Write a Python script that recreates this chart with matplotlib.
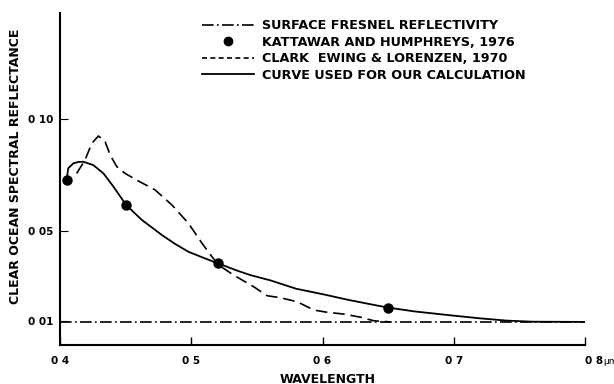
import matplotlib
matplotlib.use("Agg")
import matplotlib.pyplot as plt
from matplotlib.lines import Line2D
from matplotlib.legend_handler import HandlerLine2D

plt.rcParams['font.family'] = ['DejaVu Sans']
plt.rcParams['font.weight'] = 'bold'
plt.rcParams['axes.labelweight'] = 'bold'

# curve used for our calculation
calc_wl = [0.405, 0.4063, 0.4102, 0.4140, 0.4178, 0.4254, 0.4331, 0.4407, 0.4504,
           0.4624, 0.4704, 0.4776, 0.4875, 0.4979, 0.5090, 0.5201, 0.535, 0.545,
           0.56, 0.58, 0.60, 0.62, 0.64, 0.65, 0.67, 0.695, 0.72, 0.74, 0.76, 0.80]
calc_r = [0.0729, 0.0782, 0.0804, 0.0810, 0.0811, 0.0796, 0.0759, 0.0700, 0.0618,
          0.0551, 0.0516, 0.0484, 0.0445, 0.0409, 0.0383, 0.0358, 0.0325, 0.0305,
          0.0282, 0.0244, 0.0220, 0.0194, 0.0171, 0.0160, 0.0143, 0.0127, 0.0112,
          0.0102, 0.0097, 0.0096]

# Clark, Ewing & Lorenzen, 1970
clark_wl = [0.4127, 0.4191, 0.4242, 0.4293, 0.4344, 0.4382, 0.4433, 0.4496, 0.4585,
            0.4725, 0.4853, 0.4979, 0.5082, 0.5158, 0.5208, 0.5323, 0.5476, 0.5578,
            0.5679, 0.5807, 0.5934, 0.6036, 0.6163, 0.629, 0.6392, 0.652]
clark_r = [0.0759, 0.0819, 0.0893, 0.0926, 0.0900, 0.0841, 0.0789, 0.0759, 0.0729,
           0.0685, 0.0618, 0.0536, 0.0447, 0.0387, 0.0350, 0.0305, 0.0253, 0.0213,
           0.0204, 0.0186, 0.0149, 0.0139, 0.0131, 0.0117, 0.0101, 0.0096]

# Kattawar and Humphreys, 1976
kh_wl = [0.405, 0.45, 0.52, 0.65]
kh_r = [0.0729, 0.0618, 0.0358, 0.0160]

# surface Fresnel reflectivity
fresnel_wl = [0.40, 0.80]
fresnel_r = [0.0097, 0.0097]

xticks = [0.4, 0.5, 0.6, 0.7, 0.8]
xticklabels = ["0 4", "0 5", "0 6", "0 7", "0 8"]
yticks = [0.01, 0.05, 0.10]
yticklabels = ["0 01", "0 05", "0 10"]

labels = ["SURFACE FRESNEL REFLECTIVITY",
          "KATTAWAR AND HUMPHREYS, 1976",
          "CLARK  EWING & LORENZEN, 1970",
          "CURVE USED FOR OUR CALCULATION"]


class RightDot(HandlerLine2D):
    # put the legend dot at the right end of the handle, like the original
    def get_xdata(self, legend, xdescent, ydescent, width, height, fontsize):
        xdata, _ = super().get_xdata(legend, xdescent, ydescent, width, height, fontsize)
        return xdata, [width - xdescent - 3]


fig = plt.figure(figsize=(6.14, 3.84), dpi=100)
ax = fig.add_axes([60 / 614, 1 - 345 / 384, 525 / 614, 332 / 384])

ax.plot(fresnel_wl, fresnel_r, color='k', lw=1.2, dashes=(7, 2, 1, 2))
ax.plot(clark_wl, clark_r, color='k', lw=1.2, dashes=(7, 3.5))
ax.plot(calc_wl, calc_r, color='k', lw=1.3)
ax.plot(kh_wl, kh_r, 'o', color='k', ms=6.5)

ax.set_xlim(0.4, 0.8)
ax.set_ylim(-0.0007, 0.1475)
ax.spines['top'].set_visible(False)
ax.spines['right'].set_visible(False)
ax.spines['left'].set_linewidth(1.5)
ax.spines['bottom'].set_linewidth(1.5)

ax.set_xticks(xticks)
ax.set_xticklabels(xticklabels, fontsize=7.5, fontweight='bold')
ax.set_yticks(yticks)
ax.set_yticklabels(yticklabels, fontsize=7.5, fontweight='bold')
ax.tick_params(axis='x', direction='in', length=6, width=1, pad=8)
ax.tick_params(axis='y', direction='in', length=6, width=0.8, pad=5)
ax.get_xticklabels()[-1].set_ha('left')
ax.annotate("\u03bcm", xy=(0.8, 0), xycoords=('data', 'axes fraction'),
            xytext=(13, -12), textcoords='offset points', fontsize=6.5,
            fontweight='normal', va='center', ha='left', annotation_clip=False)

ax.set_xlabel("WAVELENGTH", fontsize=9)
ax.xaxis.set_label_coords(0.509, -0.085)
ax.set_ylabel("CLEAR OCEAN SPECTRAL REFLECTANCE", fontsize=9)
ax.yaxis.set_label_coords(-0.072, 0.539)

handles = [Line2D([], [], color='k', lw=1.2, dashes=(7, 2, 1, 2)),
           Line2D([], [], color='k', ls='none', marker='o', ms=6),
           Line2D([], [], color='k', lw=1.2, dashes=(3, 2)),
           Line2D([], [], color='k', lw=1.3)]
ax.legend(handles, labels, loc='upper left', bbox_to_anchor=(202 / 614, 1 - 19 / 384),
          bbox_transform=fig.transFigure, frameon=False, fontsize=9.2,
          handlelength=4.1, handletextpad=0.6, labelspacing=0.28,
          borderpad=0, borderaxespad=0,
          handler_map={handles[1]: RightDot(numpoints=1)})

fig.savefig("out.png", dpi=100)
